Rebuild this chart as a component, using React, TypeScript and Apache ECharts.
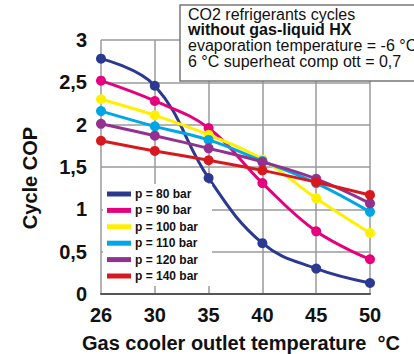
import React, { useEffect, useRef } from "react";
import * as echarts from "echarts";

const categories = ["26", "30", "35", "40", "45", "50"];
const seriesNames = ["p = 80 bar", "p = 90 bar", "p = 100 bar", "p = 110 bar", "p = 120 bar", "p = 140 bar"];
const p80 = [2.78, 2.46, 1.37, 0.6, 0.3, 0.13];
const p90 = [2.52, 2.28, 1.96, 1.31, 0.74, 0.41];
const p100 = [2.3, 2.11, 1.88, 1.59, 1.13, 0.72];
const p110 = [2.16, 1.98, 1.82, 1.57, 1.31, 0.97];
const p120 = [2.01, 1.87, 1.72, 1.56, 1.36, 1.07];
const p140 = [1.81, 1.69, 1.58, 1.46, 1.32, 1.17];
const colors = ["#2b3990", "#e6007e", "#fff000", "#00a7e6", "#93328e", "#d7191f"];
const boxLines = [
  "CO2 refrigerants cycles",
  "without gas-liquid HX",
  "evaporation temperature = -6 °C",
  "6 °C superheat comp ott = 0,7",
];

const FONT = "'Liberation Sans', Arial, Helvetica, sans-serif";

export default function App() {
  const ref = useRef<HTMLDivElement>(null);
  useEffect(() => {
    if (!ref.current) return;
    const chart = echarts.init(ref.current, undefined, { renderer: "svg" });
    const values = [p80, p90, p100, p110, p120, p140];
    chart.setOption({
      animation: false,
      backgroundColor: "#fff",
      textStyle: { fontFamily: FONT },
      grid: { left: 101, right: 44, top: 40, bottom: 60 },
      xAxis: {
        type: "category",
        data: categories,
        boundaryGap: false,
        axisLine: { show: true, lineStyle: { color: "#555", width: 2 } },
        axisTick: { show: false },
        axisLabel: { color: "#111", fontWeight: "bold", fontSize: 20, margin: 11, fontFamily: FONT },
        splitLine: { show: true, lineStyle: { color: "#9a9a9a", width: 1.5 } },
      },
      yAxis: {
        type: "value",
        min: 0,
        max: 3,
        interval: 0.5,
        axisLine: { show: false },
        axisTick: { show: false },
        axisLabel: {
          color: "#111",
          fontWeight: "bold",
          fontSize: 20,
          margin: 14,
          fontFamily: FONT,
          formatter: (v: number) => String(v).replace(".", ","),
        },
        splitLine: { show: true, lineStyle: { color: "#9a9a9a", width: 1.5 } },
      },
      legend: {
        orient: "vertical",
        left: 103,
        top: 184,
        padding: [3, 14, 3, 4],
        backgroundColor: "#fff",
        icon: "rect",
        itemWidth: 24,
        itemHeight: 5,
        itemGap: 2.4,
        data: seriesNames,
        textStyle: { color: "#111", fontWeight: "bold", fontSize: 12, lineHeight: 14, padding: [0, 0, 0, -1], fontFamily: FONT },
        z: 5,
      },
      graphic: [
        {
          type: "rect",
          z: 100,
          shape: { x: 180, y: 5, width: 260, height: 76 },
          style: { fill: "#fff", stroke: "#777", lineWidth: 1.5 },
        },
        ...boxLines.map((t, i) => ({
          type: "text",
          z: 101,
          x: 188,
          y: 14 + i * 15.8,
          style: {
            text: t,
            fill: "#111",
            font: `${i === 1 ? "bold " : ""}16px ${FONT}`,
            verticalAlign: "middle",
          },
        })),
        {
          type: "text",
          z: 101,
          x: 30,
          y: 178,
          rotation: Math.PI / 2,
          style: {
            text: "Cycle COP",
            fill: "#111",
            font: `bold 20px ${FONT}`,
            align: "center",
            verticalAlign: "middle",
          },
        },
        {
          type: "text",
          z: 101,
          x: 241,
          y: 343,
          style: {
            text: "Gas cooler outlet temperature  °C",
            fill: "#111",
            font: `bold 20px ${FONT}`,
            align: "center",
            verticalAlign: "middle",
          },
        },
      ],
      series: seriesNames.map((name, i) => ({
        name,
        type: "line",
        data: values[i],
        smooth: 0.4,
        symbol: "circle",
        symbolSize: 10,
        lineStyle: { color: colors[i], width: 3 },
        itemStyle: { color: colors[i] },
        color: colors[i],
        z: 2 + i,
      })),
    });
    return () => chart.dispose();
  }, []);
  return <div ref={ref} style={{ width: 414, height: 354, position: "absolute", left: 0, top: 0 }} />;
}
